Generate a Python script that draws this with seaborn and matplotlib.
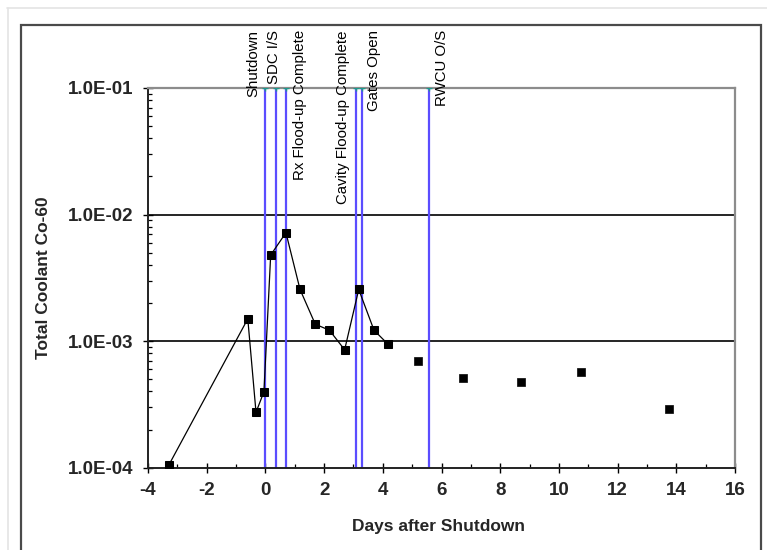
import numpy as np
import pandas as pd
import matplotlib
matplotlib.use("Agg")
import matplotlib.pyplot as plt
import matplotlib.ticker as mticker
from matplotlib.patches import Rectangle
from matplotlib.lines import Line2D
import seaborn as sns

# ---- data ----
days = [-3.29, -0.60, -0.32, -0.05, 0.18, 0.70, 1.18, 1.70, 2.18, 2.70, 3.18, 3.70, 4.18,
        5.19, 6.73, 8.70, 10.77, 13.74]
co60 = [1.05e-4, 1.50e-3, 2.74e-4, 3.98e-4, 4.79e-3, 7.19e-3, 2.56e-3, 1.36e-3, 1.22e-3,
        8.55e-4, 2.56e-3, 1.22e-3, 9.44e-4,
        6.97e-4, 5.10e-4, 4.74e-4, 5.66e-4, 2.91e-4]
n_connected = 13  # first points joined by a line

events = ["Shutdown", "SDC I/S", "Rx Flood-up Complete", "Cavity Flood-up Complete",
          "Gates Open", "RWCU O/S"]
event_days = [0.0, 0.36, 0.71, 3.10, 3.28, 5.56]
event_level = 1e-1

x_ticks = [-4, -2, 0, 2, 4, 6, 8, 10, 12, 14, 16]
y_ticks = [1e-4, 1e-3, 1e-2, 1e-1]

# label horizontal offsets (pixels) relative to their lines
label_dx = [-12, -2, 13.5, -13.5, 12.5, 13.5]

sns.set_theme(style="white")
plt.rcParams["font.family"] = ["Liberation Sans", "DejaVu Sans"]

fig = plt.figure(figsize=(7.67, 5.5), dpi=100)
ax = fig.add_axes([148 / 767, 1 - 467.7 / 550, (735 - 148) / 767, (467.7 - 88) / 550])

df = pd.DataFrame({"days": days, "co60": co60})
df_line = df.iloc[:n_connected]
df_pts = df.iloc[n_connected:]

ax.set_yscale("log")

# event lines
ax.vlines(event_days, y_ticks[0], event_level, colors="#5b4dff", lw=1.6, zorder=2)
sns.scatterplot(x=event_days, y=[event_level] * len(event_days), marker="+", s=22,
                color="#1f9a8a", linewidth=1.0, ax=ax, zorder=4, legend=False)

# gridlines at inner decades
for yv in y_ticks[1:-1]:
    ax.axhline(yv, color="black", lw=1.2, zorder=1)

sns.lineplot(data=df_line, x="days", y="co60", color="black", lw=0.9,
             marker="s", markersize=6, markeredgecolor="black", ax=ax, zorder=5,
             estimator=None, sort=False)
sns.scatterplot(data=df_pts, x="days", y="co60", marker="s", s=36, color="black",
                edgecolor="black", ax=ax, zorder=5, legend=False)

ax.set_xlim(x_ticks[0], x_ticks[-1])
ax.set_ylim(y_ticks[0], y_ticks[-1])
ax.set_xticks(x_ticks)
ax.xaxis.set_minor_locator(mticker.MultipleLocator(1))
ax.set_yticks(y_ticks)
ax.yaxis.set_minor_locator(mticker.LogLocator(base=10, subs=np.arange(2, 10)))
ax.yaxis.set_minor_formatter(mticker.NullFormatter())
ax.yaxis.set_major_formatter(mticker.FuncFormatter(lambda v, p: f"{v:.1E}"))
ax.xaxis.set_major_formatter(mticker.FuncFormatter(lambda v, p: f"{int(round(v))}"))

ax.tick_params(axis="both", which="major", direction="inout", length=7, width=1.0,
               color="black", pad=7, labelsize=13.5, bottom=True, left=True,
               top=False, right=False)
ax.tick_params(axis="both", which="minor", direction="in", length=3, width=0.9,
               color="black", bottom=True, left=True, top=False, right=False)
for lab in ax.get_xticklabels() + ax.get_yticklabels():
    lab.set_fontweight("bold")

for side in ["left", "bottom"]:
    ax.spines[side].set_color("#222222")
    ax.spines[side].set_linewidth(1.4)
for side in ["top", "right"]:
    ax.spines[side].set_color("#8c8c8c")
    ax.spines[side].set_linewidth(1.6)

ax.set_xlabel("Days after Shutdown", fontsize=12.5, fontweight="bold")
ax.set_ylabel("Total Coolant Co-60", fontsize=12.5, fontweight="bold")
ax.xaxis.set_label_coords(0.4957, (467.7 - 526.5) / 379.7)
ax.xaxis.label.set_va("center")
ax.yaxis.set_label_coords((44 - 148) / 587, 0.5)
ax.yaxis.label.set_va("center")

# event labels
for name, xd, dx in zip(events, event_days, label_dx):
    ax.annotate(name, xy=(xd, 1.0), xycoords=("data", "axes fraction"),
                xytext=(dx, 58), textcoords="offset pixels",
                rotation=90, ha="center", va="top", fontsize=10.8,
                color="black", annotation_clip=False)

# outer chart frames
fig.add_artist(Line2D([7 / 767, 1.0], [1 - 8 / 550, 1 - 8 / 550], transform=fig.transFigure,
                      color="#e4e4e4", lw=1.2))
fig.add_artist(Line2D([8 / 767, 8 / 767], [0, 1 - 8 / 550], transform=fig.transFigure,
                      color="#e4e4e4", lw=1.2))
fig.add_artist(Rectangle((21 / 767, -0.02), (761 - 21) / 767, 1 - 25 / 550 + 0.02,
                         transform=fig.transFigure, fill=False, edgecolor="#4a4a4a", lw=1.6))

fig.savefig("out.png", dpi=100)
